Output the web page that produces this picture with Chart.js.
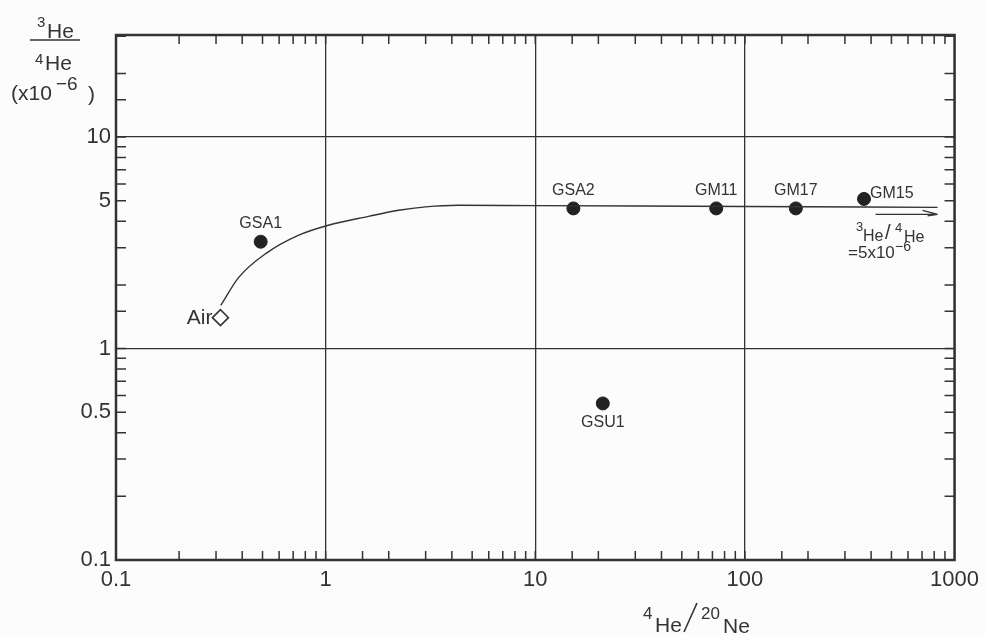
<!DOCTYPE html>
<html>
<head>
<meta charset="utf-8">
<script src="https://cdn.jsdelivr.net/npm/chart.js@4/dist/chart.umd.min.js"></script>
<style>
  html, body { margin: 0; padding: 0; background: #fcfcfc; }
  #wrap { width: 986px; height: 635px; }
</style>
</head>
<body>
<div id="wrap"><canvas id="chart"></canvas></div>
<script>
// samples: 4He/20Ne (x) and 3He/4He x1e-6 (y)
const sampleNames = ['GSA1', 'GSA2', 'GM11', 'GM17', 'GM15', 'GSU1'];
const sampleX = [0.49, 15.2, 73, 175, 370, 21];
const sampleY = [3.2, 4.6, 4.6, 4.6, 5.1, 0.55];

const airX = [0.315];
const airY = [1.4];

// mixing curve air -> mantle-like end member
const curveX = [0.316, 0.385, 0.52, 0.74, 1.03, 1.6, 2.23, 3.0, 4.3, 10, 100, 830];
const curveY = [1.6, 2.17, 2.82, 3.43, 3.83, 4.22, 4.51, 4.68, 4.76, 4.74, 4.7, 4.65];

const xTickLabels = [0.1, 1, 10, 100, 1000];
const yTickLabels = [0.1, 0.5, 1, 5, 10];
const decades = [0.1, 1, 10, 100, 1000];

const ink = '#333';
const tickFont = { family: 'Liberation Sans', size: 22 };

function isDecade(v) {
  return decades.some(d => Math.abs(v - d) < d * 1e-6);
}

function txt(ctx, s, size, x, y) {
  ctx.font = size + 'px "Liberation Sans"';
  ctx.fillText(s, x, y);
}

const extras = {
  id: 'extras',
  afterDraw(chart) {
    const { ctx, chartArea: a, scales: { x, y } } = chart;
    ctx.save();
    ctx.strokeStyle = ink;
    ctx.fillStyle = ink;

    // inward minor ticks on all four sides
    ctx.lineWidth = 1.5;
    x.ticks.forEach(t => {
      const px = x.getPixelForValue(t.value);
      if (px <= a.left + 1 || px >= a.right - 1) return;
      ctx.beginPath();
      ctx.moveTo(px, a.bottom); ctx.lineTo(px, a.bottom - 9);
      ctx.moveTo(px, a.top); ctx.lineTo(px, a.top + 9);
      ctx.stroke();
    });
    y.ticks.forEach(t => {
      const py = y.getPixelForValue(t.value);
      if (py <= a.top + 1 || py >= a.bottom - 1) return;
      ctx.beginPath();
      ctx.moveTo(a.left, py); ctx.lineTo(a.left + 10, py);
      ctx.moveTo(a.right, py); ctx.lineTo(a.right - 10, py);
      ctx.stroke();
    });

    // frame
    ctx.lineWidth = 2.5;
    ctx.strokeRect(a.left, a.top, a.right - a.left, a.bottom - a.top);

    // sample labels
    ctx.font = '16px "Liberation Sans"';
    ctx.textBaseline = 'middle';
    sampleNames.forEach((n, i) => {
      const px = x.getPixelForValue(sampleX[i]);
      const py = y.getPixelForValue(sampleY[i]);
      if (n === 'GM15') {
        ctx.textAlign = 'left';
        ctx.fillText(n, px + 6, py - 5);
      } else if (n === 'GSU1') {
        ctx.textAlign = 'center';
        ctx.fillText(n, px, py + 19);
      } else {
        ctx.textAlign = 'center';
        ctx.fillText(n, px, py - 18);
      }
    });

    // Air label
    ctx.font = '21px "Liberation Sans"';
    ctx.textAlign = 'right';
    ctx.fillText('Air', x.getPixelForValue(airX[0]) - 8, y.getPixelForValue(airY[0]) + 1);

    // asymptote arrow and note
    const ay = y.getPixelForValue(4.65) + 7;
    const ax0 = x.getPixelForValue(420), ax1 = x.getPixelForValue(830);
    ctx.lineWidth = 1.4;
    ctx.beginPath();
    ctx.moveTo(ax0, ay); ctx.lineTo(ax1, ay);
    ctx.moveTo(ax1, ay); ctx.lineTo(ax1 - 15, ay - 4);
    ctx.moveTo(ax1, ay); ctx.lineTo(ax1 - 10, ay + 1.5);
    ctx.stroke();

    ctx.textAlign = 'left';
    ctx.textBaseline = 'alphabetic';
    txt(ctx, '3', 13, 856, 231);
    txt(ctx, 'He', 16, 863, 241);
    txt(ctx, '/', 20, 885, 239);
    txt(ctx, '4', 13, 895, 232);
    txt(ctx, 'He', 16, 904, 242);
    txt(ctx, '=5x10', 17, 848, 258);
    txt(ctx, '\u22126', 14, 895, 251);

    // y axis title
    txt(ctx, '3', 15, 37, 27);
    txt(ctx, 'He', 21, 47, 38);
    ctx.lineWidth = 1.4;
    ctx.beginPath(); ctx.moveTo(30, 40); ctx.lineTo(80, 40); ctx.stroke();
    txt(ctx, '4', 15, 35, 64);
    txt(ctx, 'He', 21, 45, 70);
    txt(ctx, '(x10', 21, 11, 100);
    txt(ctx, '\u22126', 19, 56, 90);
    txt(ctx, ')', 21, 88, 101);

    // x axis title
    txt(ctx, '4', 17, 643, 619);
    txt(ctx, 'He', 21, 655, 632);
    ctx.lineWidth = 1.6;
    ctx.beginPath(); ctx.moveTo(684, 632); ctx.lineTo(697, 603); ctx.stroke();
    txt(ctx, '20', 17, 701, 619);
    txt(ctx, 'Ne', 21, 723, 633);

    ctx.restore();
  }
};

new Chart(document.getElementById('chart'), {
  type: 'scatter',
  data: {
    datasets: [
      {
        label: 'mixing',
        data: curveX.map((v, i) => ({ x: v, y: curveY[i] })),
        showLine: true,
        borderColor: ink,
        borderWidth: 1.4,
        pointRadius: 0,
        cubicInterpolationMode: 'monotone'
      },
      {
        label: 'samples',
        data: sampleX.map((v, i) => ({ x: v, y: sampleY[i] })),
        pointRadius: 6.5,
        backgroundColor: '#222',
        borderColor: '#222'
      },
      {
        label: 'air',
        data: airX.map((v, i) => ({ x: v, y: airY[i] })),
        pointStyle: 'rectRot',
        pointRadius: 8,
        backgroundColor: '#fff',
        borderColor: ink,
        borderWidth: 1.6
      }
    ]
  },
  options: {
    responsive: true,
    maintainAspectRatio: false,
    animation: false,
    layout: { padding: { top: 35, right: 30, left: 0, bottom: 0 } },
    plugins: { legend: { display: false }, tooltip: { enabled: false } },
    scales: {
      x: {
        type: 'logarithmic',
        min: 0.1,
        max: 1000,
        border: { display: false },
        grid: {
          drawTicks: false,
          lineWidth: 1.3,
          color: c => isDecade(c.tick.value) ? ink : 'rgba(0,0,0,0)'
        },
        ticks: {
          autoSkip: false,
          maxRotation: 0,
          padding: 7,
          color: ink,
          font: tickFont,
          callback: v => xTickLabels.some(t => Math.abs(t - v) < t * 1e-6) ? String(v) : ''
        },
        afterFit: s => { s.height = 75; }
      },
      y: {
        type: 'logarithmic',
        min: 0.1,
        max: 30.4,
        border: { display: false },
        grid: {
          drawTicks: false,
          lineWidth: 1.3,
          color: c => isDecade(c.tick.value) ? ink : 'rgba(0,0,0,0)'
        },
        ticks: {
          autoSkip: false,
          padding: 5,
          color: ink,
          font: tickFont,
          callback: v => yTickLabels.some(t => Math.abs(t - v) < t * 1e-6) ? String(v) : ''
        },
        afterFit: s => { s.width = 116; }
      }
    }
  },
  plugins: [extras]
});
</script>
</body>
</html>
